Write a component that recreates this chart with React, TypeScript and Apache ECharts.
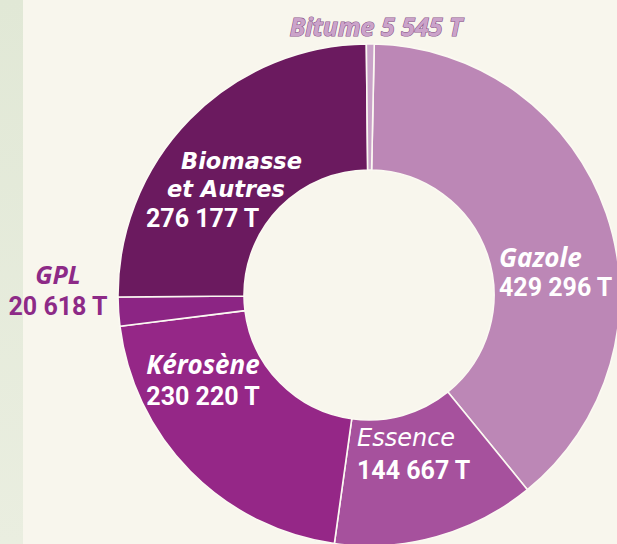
import React, { useEffect, useRef } from 'react';
import * as echarts from 'echarts';

const categories = ['Gazole', 'Essence', 'Kérosène', 'GPL', 'Biomasse et Autres', 'Bitume'];
const nameLines = [['Gazole'], ['Essence'], ['Kérosène'], ['GPL'], ['Biomasse', 'et Autres'], ['Bitume']];
const values = [429296, 144667, 230220, 20618, 276177, 5545];
const colors = ['#bc87b6', '#a6519d', '#952787', '#8c2584', '#6b1a5f', '#c9a2c8'];

const fmt = (v: number) => String(v).replace(/\B(?=(\d{3})+(?!\d))/g, ' ') + ' T';

const NAME_FONT = '"Open Sans", "DejaVu Sans", sans-serif';
const WIDE_FONT = '"DejaVu Sans", sans-serif';
const NUM_FONT = 'Roboto, "DejaVu Sans", sans-serif';

// label layout (pixel anchors)
const labelPos: { x: number; y: number; align: 'left' | 'center' | 'right' }[] = [
  { x: 499, y: 242, align: 'left' },
  { x: 357, y: 422, align: 'left' },
  { x: 203, y: 348, align: 'center' },
  { x: 58, y: 258, align: 'center' },
  { x: 146, y: 147, align: 'left' },
  { x: 376, y: 11, align: 'center' },
];

const nameStyle = { color: '#ffffff', fontFamily: NAME_FONT, fontWeight: 'bold', fontStyle: 'italic', fontSize: 25 };
const numStyle = { color: '#ffffff', fontFamily: NUM_FONT, fontWeight: 'bold', fontSize: 25 };
const wideStyle = { color: '#ffffff', fontFamily: WIDE_FONT, fontWeight: 'bold', fontStyle: 'italic', fontSize: 22.5, lineHeight: 28 };

const rich: Record<string, any> = {
  n: { ...nameStyle, fontSize: 26, lineHeight: 30 },
  v: { ...numStyle, lineHeight: 30 },
  e: { color: '#ffffff', fontFamily: WIDE_FONT, fontWeight: 200, fontStyle: 'italic', fontSize: 24, lineHeight: 32 },
  ev: { ...numStyle, lineHeight: 32 },
  k: { ...nameStyle, fontSize: 26, lineHeight: 32 },
  kv: { ...numStyle, lineHeight: 32 },
  g: { ...nameStyle, color: '#8d2a87', lineHeight: 32 },
  gv: { ...numStyle, color: '#8d2a87', lineHeight: 32 },
  b1: { ...wideStyle, padding: [0, 0, 0, 35] },
  b2: { ...wideStyle, padding: [0, 0, 0, 21] },
  bv: { ...numStyle, lineHeight: 31 },
  t: {
    ...nameStyle, color: '#cba3ca', fontSize: 25, lineHeight: 30,
    textBorderColor: '#8a568a', textBorderWidth: 1.2,
  },
};

const formatLabel = (i: number) => {
  const num = fmt(values[i]);
  switch (i) {
    case 0: return `{n|${nameLines[0][0]}}\n{v|${num}}`;
    case 1: return `{e|${nameLines[1][0]}}\n{ev|${num}}`;
    case 2: return `{k|${nameLines[2][0]}}\n{kv|${num}}`;
    case 3: return `{g|${nameLines[3][0]}}\n{gv|${num}}`;
    case 4: return `{b1|${nameLines[4][0]}}\n{b2|${nameLines[4][1]}}\n{bv|${num}}`;
    default: return `{t|${nameLines[5][0]} ${num}}`;
  }
};

export default function App() {
  const ref = useRef<HTMLDivElement>(null);
  useEffect(() => {
    if (!ref.current) return;
    const chart = echarts.init(ref.current, undefined, { renderer: 'svg' });
    chart.setOption({
      animation: false,
      backgroundColor: '#f8f6ed',
      graphic: [
        {
          type: 'rect',
          shape: { x: 0, y: 0, width: 23, height: 544 },
          style: {
            fill: new echarts.graphic.LinearGradient(0, 0, 0, 1, [
              { offset: 0, color: '#e1e8d6' },
              { offset: 1, color: '#eaeee0' },
            ]),
          },
          z: -1,
        },
      ],
      series: [
        {
          type: 'pie',
          center: [369, 295],
          radius: [125, 251],
          startAngle: 88.8,
          clockwise: true,
          avoidLabelOverlap: false,
          itemStyle: { borderColor: '#fbf9f2', borderWidth: 1.6 },
          emphasis: { disabled: true },
          labelLine: { show: false },
          label: {
            show: true,
            position: 'outside',
            formatter: (p: any) => formatLabel(p.dataIndex),
            rich,
          },
          labelLayout: (p: any) => {
            const lp = labelPos[p.dataIndex];
            return { x: lp.x, y: lp.y, align: lp.align, verticalAlign: 'top' };
          },
          data: categories.map((c, i) => ({ name: c, value: values[i], itemStyle: { color: colors[i] } })),
        },
      ],
    });
    return () => chart.dispose();
  }, []);
  return <div ref={ref} style={{ position: 'fixed', left: 0, top: 0, width: 617, height: 544 }} />;
}
